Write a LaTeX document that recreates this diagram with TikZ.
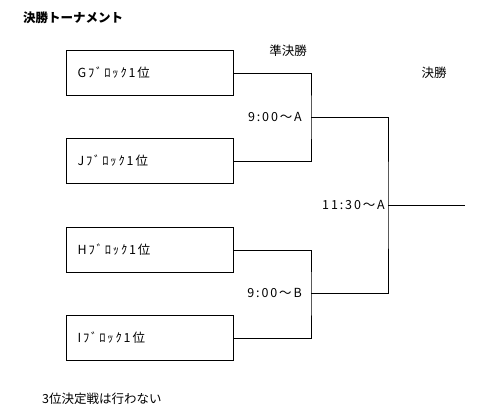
\documentclass[tikz,border=0pt]{standalone}
\usepackage{fontspec}
\setmainfont{Noto Sans CJK JP}
\newfontfamily\spacedfont{Noto Sans CJK JP}[LetterSpace=15]
\begin{document}
\begin{tikzpicture}[x=1pt,y=-1pt,
  team/.style={draw,line width=1.1pt,minimum height=45pt,text width=145pt,inner xsep=11pt,align=left,anchor=north west,font=\spacedfont\fontsize{12.5}{14}\selectfont},
  lbl/.style={inner sep=0pt,font=\fontsize{12.5}{14}\selectfont},
  time/.style={inner sep=0pt,anchor=east,font=\spacedfont\fontsize{12.5}{14}\selectfont},
  br/.style={line width=1pt}]
\useasboundingbox (0,0) rectangle (480,416);
\node[lbl,anchor=west,font=\fontsize{12.5}{14}\selectfont\bfseries] (title) at (23,18) {決勝トーナメント};
\node[lbl] (semi) at (288,51) {準決勝};
\node[lbl] (fin) at (434,73) {決勝};
\node[team] (G) at (66,50) {Gﾌﾞﾛｯｸ1位};
\node[team] (J) at (66,138) {Jﾌﾞﾛｯｸ1位};
\node[team] (H) at (66,227) {Hﾌﾞﾛｯｸ1位};
\node[team] (I) at (66,315) {Iﾌﾞﾛｯｸ1位};
\coordinate (sA) at (311,117);
\coordinate (sB) at (311,293);
\coordinate (f) at (388,205);
\coordinate (e) at (465,205);
\draw[br] (G.east) -| (sA) |- (J.east);
\draw[br] (H.east) -| (sB) |- (I.east);
\draw[br] (sA) -| (f) |- (sB);
\draw[br] (f) -- (e);
\node[time] (tA) at (302,117) {9:00～A};
\node[time] (tB) at (302,293) {9:00～B};
\node[time] (tF) at (385,205) {11:30～A};
\node[lbl,anchor=west] (note) at (42,399) {3位決定戦は行わない};
\end{tikzpicture}
\end{document}
